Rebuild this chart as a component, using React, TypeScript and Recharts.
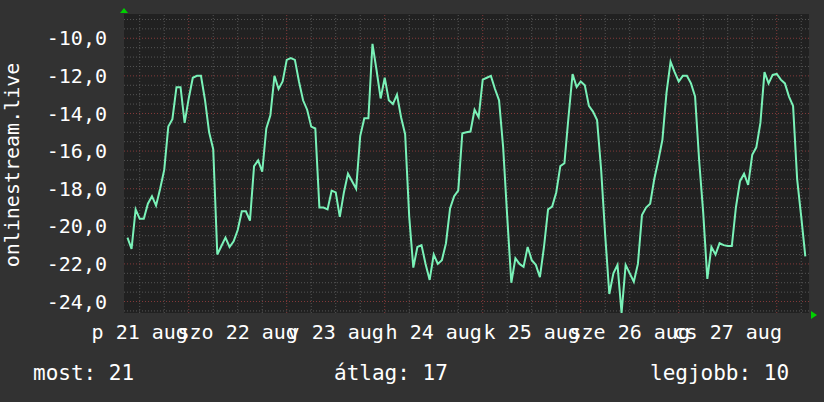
import { CartesianGrid, Line, LineChart, ReferenceDot, ReferenceLine, XAxis, YAxis } from "recharts";

// hours relative to 22 aug 00:00, one reading per hour
const START_HOUR = -15;
const temps = [
  -20.6, -21.2, -19.1, -19.6, -19.6, -18.8, -18.4, -18.9, -18.0, -17.0, -14.7, -14.3, -12.6, -12.6, -14.5,
  -13.2, -12.1, -12.0, -12.0, -13.3, -15.0, -15.9, -21.5, -21.05, -20.6, -21.1, -20.8, -20.2, -19.2, -19.2,
  -19.7, -16.8, -16.5, -17.1, -14.8, -14.1, -12.0, -12.7, -12.3, -11.15, -11.06, -11.15, -12.3, -13.3, -13.8,
  -14.7, -14.8, -19.0, -19.0, -19.1, -18.1, -18.2, -19.5, -18.2, -17.2, -17.6, -18.0, -15.2, -14.25, -14.25,
  -10.3, -11.7, -13.2, -12.1, -13.3, -13.5, -13.0, -14.2, -15.1, -19.5, -22.2, -21.1, -21.0, -22.0, -22.85,
  -21.5, -22.0, -21.8, -20.9, -19.05, -18.4, -18.1, -15.05, -15.0, -14.96, -13.8, -14.2, -12.2, -12.1, -12.0,
  -12.7, -13.3, -15.8, -19.5, -23.0, -21.7, -22.0, -22.15, -21.1, -21.8, -22.05, -22.7, -21.1, -19.1, -18.95,
  -18.2, -16.8, -16.65, -14.2, -11.9, -12.6, -12.3, -12.5, -13.6, -13.9, -14.35, -17.0, -20.5, -23.6, -22.5,
  -22.05, -24.6, -22.05, -22.5, -22.95, -22.0, -19.4, -19.0, -18.8, -17.5, -16.5, -15.4, -12.9, -11.25, -11.8,
  -12.3, -12.0, -12.0, -12.4, -13.1, -16.5, -19.3, -22.8, -21.1, -21.5, -20.9, -21.0, -21.05, -21.05, -19.0,
  -17.6, -17.2, -17.8, -16.2, -15.8, -14.5, -11.8, -12.4, -11.95, -11.9, -12.2, -12.4, -13.1, -13.6, -17.5,
  -19.5, -21.6,
];

const dayTicks = [-12, 12, 36, 60, 84, 108, 132];
const dayLabels = ["p 21 aug", "szo 22 aug", "v 23 aug", "h 24 aug", "k 25 aug", "sze 26 aug", "cs 27 aug"];
const yTicks = [-24, -22, -20, -18, -16, -14, -12, -10];
const summary = [
  { label: "most", value: 21 },
  { label: "átlag", value: 17 },
  { label: "legjobb", value: 10 },
];

const X_MIN = -15.85;
const X_MAX = 151.9;
const Y_MIN = -24.61;
const Y_MAX = -8.71;

const minorX: number[] = [];
for (let h = -12; h <= 150; h += 6) if (h % 24 !== 0) minorX.push(h);
const majorX = [0, 24, 48, 72, 96, 120, 144];
const minorY: number[] = [];
for (let v = -24.5; v <= -9; v += 0.5) if (v % 2 !== 0) minorY.push(v);

const data = temps.map((v, i) => ({ t: START_HOUR + i, v }));

const FONT = "'DejaVu Sans Mono', monospace";
const BG = "#323232";

function UpArrow({ cx, cy }: any) {
  return <polygon points={`${cx - 4},${cy - 1} ${cx + 4},${cy - 1} ${cx},${cy - 6}`} fill="#00d000" />;
}

function RightArrow({ cx, cy }: any) {
  return <polygon points={`${cx + 2},${cy - 2} ${cx + 2},${cy + 6} ${cx + 8},${cy + 2}`} fill="#00d000" />;
}

export default function App() {
  return (
    <div style={{ position: "absolute", left: 0, top: 0, width: 824, height: 402, background: BG }}>
      <LineChart width={824} height={402} data={data} margin={{ top: 14, right: 15, left: 0, bottom: 0 }}>
        <CartesianGrid horizontal={false} vertical={false} fill="#212121" />
        {minorX.map((h) => (
          <ReferenceLine key={`mx${h}`} x={h} stroke="#555555" strokeDasharray="1 2" />
        ))}
        {minorY.map((v) => (
          <ReferenceLine key={`my${v}`} y={v} stroke="#555555" strokeDasharray="1 2" />
        ))}
        {majorX.map((h) => (
          <ReferenceLine key={`Mx${h}`} x={h} stroke="#843a3a" strokeDasharray="1 2" />
        ))}
        {yTicks.map((v) => (
          <ReferenceLine key={`My${v}`} y={v} stroke="#843a3a" strokeDasharray="1 2" />
        ))}
        <XAxis
          dataKey="t"
          type="number"
          domain={[X_MIN, X_MAX]}
          allowDataOverflow
          ticks={dayTicks}
          interval={0}
          height={89}
          axisLine={false}
          tickLine={false}
          tickSize={0}
          tickMargin={12}
          tickFormatter={(t: number) => dayLabels[dayTicks.indexOf(t)]}
          tick={{ fill: "#ffffff", fontSize: 20, fontFamily: FONT }}
        />
        <YAxis
          type="number"
          domain={[Y_MIN, Y_MAX]}
          allowDataOverflow
          ticks={yTicks}
          interval={0}
          width={124}
          axisLine={false}
          tickLine={false}
          tickSize={0}
          tickMargin={17}
          tickFormatter={(v: number) => v.toFixed(1).replace(".", ",")}
          tick={{ fill: "#ffffff", fontSize: 20, fontFamily: FONT }}
          label={{
            content: () => (
              <text
                x={18.5}
                y={165}
                transform="rotate(-90 18.5 165)"
                textAnchor="middle"
                fill="#ffffff"
                fontSize={20}
                fontFamily={FONT}
              >
                onlinestream.live
              </text>
            ),
          }}
        />
        <Line type="linear" dataKey="v" stroke="#7af2b8" strokeWidth={2} dot={false} isAnimationActive={false} />
        <ReferenceDot x={X_MIN} y={Y_MAX} ifOverflow="visible" shape={UpArrow} />
        <ReferenceDot x={X_MAX} y={Y_MIN} ifOverflow="visible" shape={RightArrow} />
      </LineChart>
      {summary.map((s, i) => (
        <div
          key={s.label}
          style={{
            position: "absolute",
            top: 363,
            left: [33, 334, 650][i],
            color: "#ffffff",
            fontFamily: FONT,
            fontSize: 21,
            lineHeight: "21px",
            whiteSpace: "pre",
          }}
        >
          {`${s.label}: ${s.value}`}
        </div>
      ))}
    </div>
  );
}
